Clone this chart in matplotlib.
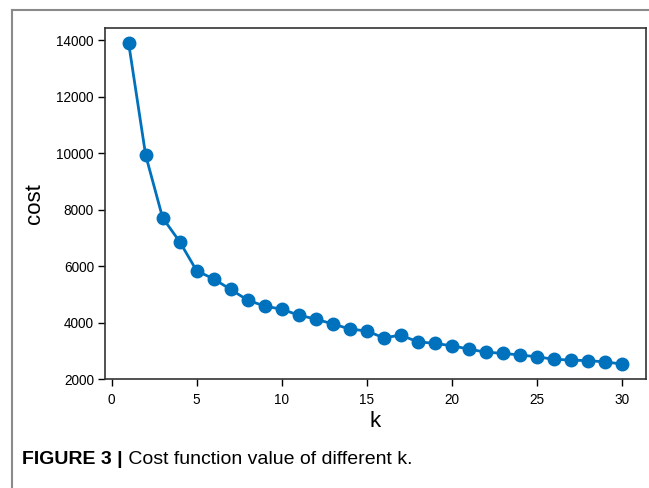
import matplotlib
matplotlib.use("Agg")
import matplotlib.pyplot as plt
from matplotlib.lines import Line2D

# cost for each k
k = list(range(1, 31))
cost = [13890, 9930, 7710, 6870, 5840, 5550, 5180, 4800, 4590, 4480,
        4270, 4130, 3960, 3780, 3710, 3470, 3560, 3330, 3270, 3190,
        3070, 2960, 2920, 2860, 2800, 2710, 2680, 2660, 2620, 2540]
xticks = [0, 5, 10, 15, 20, 25, 30]
yticks = [2000, 4000, 6000, 8000, 10000, 12000, 14000]
caption_bold = "FIGURE 3 |"
caption_text = " Cost function value of different k."

plt.rcParams['font.family'] = ['Liberation Sans', 'DejaVu Sans']

fig = plt.figure(figsize=(6.49, 4.88), dpi=100)
ax = fig.add_axes([0.1618, 0.2227, 0.8336, 0.7205])

blue = "#0071bc"
ax.plot(k, cost, color=blue, linewidth=2, marker="o", markersize=9)

ax.set_xlim(-0.39, 31.43)
ax.set_ylim(2000, 14435)
ax.set_xticks(xticks)
ax.set_yticks(yticks)
ax.tick_params(labelsize=9.8, length=5, width=1)
ax.tick_params(axis="x", pad=5)
ax.tick_params(axis="y", pad=3)
ax.set_xlabel("k", fontsize=16, labelpad=3)
ax.set_ylabel("cost", fontsize=16, labelpad=8)
for s in ax.spines.values():
    s.set_color("#333333")
    s.set_linewidth(1.2)

# outer frame of the figure panel (top and left edges only)
fig.add_artist(Line2D([12 / 649, 1.0], [1 - 10.3 / 488, 1 - 10.3 / 488],
                      transform=fig.transFigure, color="#8a8a8a", linewidth=1.5))
fig.add_artist(Line2D([12 / 649, 12 / 649], [0.0, 1 - 10.3 / 488],
                      transform=fig.transFigure, color="#8a8a8a", linewidth=1.5))

cap_y = 1 - 460 / 488
t = fig.text(22 / 649, cap_y, caption_bold, fontsize=14,
             fontweight="bold", va="center", ha="left")
fig.canvas.draw()
bb = t.get_window_extent()
fig.text(bb.x1 / fig.bbox.width, cap_y, caption_text, fontsize=14,
         va="center", ha="left")

fig.savefig("out.png", dpi=100)
